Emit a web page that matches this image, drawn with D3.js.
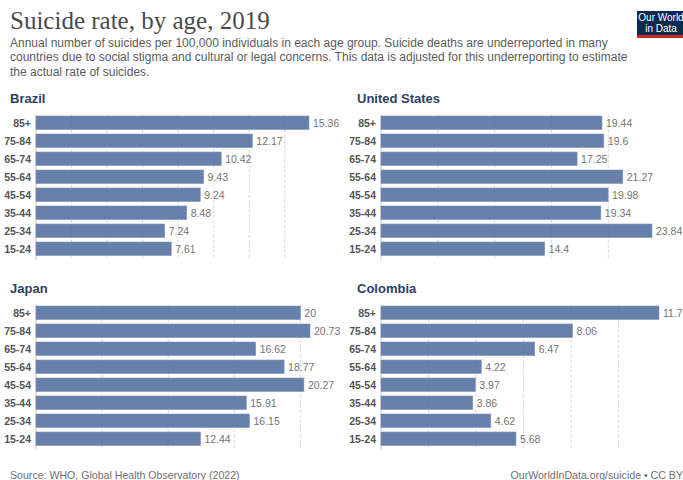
<!DOCTYPE html>
<html>
<head>
<meta charset="utf-8">
<script src="https://cdn.jsdelivr.net/npm/d3@7"></script>
<style>
  html, body { margin: 0; padding: 0; background: #fff; }
  svg { display: block; }
</style>
</head>
<body>
<svg id="chart" width="683" height="480"></svg>
<script>
// ---- data ----
const ageGroups = ["85+", "75-84", "65-74", "55-64", "45-54", "35-44", "25-34", "15-24"];
const countries = ["Brazil", "United States", "Japan", "Colombia"];
const brazilValues   = [15.36, 12.17, 10.42, 9.43, 9.24, 8.48, 7.24, 7.61];
const usValues       = [19.44, 19.6, 17.25, 21.27, 19.98, 19.34, 23.84, 14.4];
const japanValues    = [20, 20.73, 16.62, 18.77, 20.27, 15.91, 16.15, 12.44];
const colombiaValues = [11.7, 8.06, 6.47, 4.22, 3.97, 3.86, 4.62, 5.68];
const gridSteps = [2, 5, 5, 2];

const title = "Suicide rate, by age, 2019";
const subtitleLines = [
  "Annual number of suicides per 100,000 individuals in each age group. Suicide deaths are underreported in many",
  "countries due to social stigma and cultural or legal concerns. This data is adjusted for this underreporting to estimate",
  "the actual rate of suicides."
];
const sourceText = "Source: WHO, Global Health Observatory (2022)";
const urlText = "OurWorldInData.org/suicide • CC BY";

// ---- drawing ----
const svg = d3.select("#chart");
const sans = "'Liberation Sans', Arial, sans-serif";

svg.append("text").attr("x", 10).attr("y", 29)
  .attr("font-family", "'Liberation Serif', 'Times New Roman', serif")
  .attr("font-size", 25).attr("fill", "#4a4a4a").text(title);

svg.selectAll("text.sub").data(subtitleLines).enter().append("text")
  .attr("class", "sub").attr("x", 10).attr("y", (d, i) => 46.5 + i * 14.5)
  .attr("font-family", sans).attr("font-size", 12).attr("fill", "#5b5b5b")
  .text(d => d);

// logo
const logo = svg.append("g");
logo.append("rect").attr("x", 637).attr("y", 11).attr("width", 52).attr("height", 27).attr("fill", "#0d2a52");
logo.append("rect").attr("x", 637).attr("y", 35).attr("width", 52).attr("height", 3).attr("fill", "#ce261e");
logo.append("text").attr("x", 661).attr("y", 21).attr("text-anchor", "middle")
  .attr("font-family", sans).attr("font-size", 10).attr("fill", "#fff").text("Our World");
logo.append("text").attr("x", 661).attr("y", 32).attr("text-anchor", "middle")
  .attr("font-family", sans).attr("font-size", 10).attr("fill", "#fff").text("in Data");

const seriesValues = [brazilValues, usValues, japanValues, colombiaValues];
const panels = [
  { x0: 36,  x1: 309, titleX: 10,  titleY: 103, y0: 113.75 },
  { x0: 381, x1: 652, titleX: 357, titleY: 103, y0: 113.75 },
  { x0: 36,  x1: 310, titleX: 10,  titleY: 293, y0: 303.75 },
  { x0: 381, x1: 659, titleX: 357, titleY: 293, y0: 303.75 }
];

countries.forEach((name, ci) => {
  const p = panels[ci];
  const vals = seriesValues[ci];
  const data = ageGroups.map((a, i) => ({ age: a, value: vals[i] }));
  const x = d3.scaleLinear().domain([0, d3.max(vals)]).range([p.x0, p.x1]);
  const y = d3.scaleBand().domain(ageGroups).range([p.y0, p.y0 + 144])
    .paddingInner(0.25).paddingOuter(0.125);
  const g = svg.append("g");

  g.append("text").attr("x", p.titleX).attr("y", p.titleY)
    .attr("font-family", sans).attr("font-weight", "bold").attr("font-size", 13)
    .attr("fill", "#2d3f63").text(name);

  // grid
  const step = gridSteps[ci];
  const ticks = d3.range(step, d3.max(vals), step);
  g.selectAll("line.grid").data(ticks).enter().append("line")
    .attr("x1", d => x(d)).attr("x2", d => x(d))
    .attr("y1", p.y0 + 1).attr("y2", p.y0 + 146)
    .attr("stroke", "#d9d9d9").attr("stroke-dasharray", "3,2").attr("stroke-width", 1);

  // axis line
  g.append("line").attr("x1", p.x0).attr("x2", p.x0)
    .attr("y1", p.y0 + 1).attr("y2", p.y0 + 146)
    .attr("stroke", "#c8c8c8").attr("stroke-width", 1);

  g.selectAll("rect.bar").data(data).enter().append("rect")
    .attr("x", p.x0).attr("y", d => y(d.age))
    .attr("width", d => x(d.value) - p.x0).attr("height", y.bandwidth())
    .attr("fill", "#4c6a9c").attr("fill-opacity", 0.85)
    .attr("stroke", "#7d92ba").attr("stroke-width", 0.6);

  g.selectAll("text.age").data(data).enter().append("text")
    .attr("x", p.x0 - 5).attr("y", d => y(d.age) + y.bandwidth() / 2)
    .attr("dy", "0.36em").attr("text-anchor", "end")
    .attr("font-family", sans).attr("font-weight", "bold").attr("font-size", 10.5)
    .attr("fill", "#555").text(d => d.age);

  g.selectAll("text.val").data(data).enter().append("text")
    .attr("x", d => x(d.value) + 4).attr("y", d => y(d.age) + y.bandwidth() / 2)
    .attr("dy", "0.36em")
    .attr("font-family", sans).attr("font-size", 10.5)
    .attr("fill", "#747474").text(d => d.value);
});

svg.append("text").attr("x", 10).attr("y", 479)
  .attr("font-family", sans).attr("font-size", 10.6).attr("fill", "#6e6e6e").text(sourceText);
svg.append("text").attr("x", 683).attr("y", 479).attr("text-anchor", "end")
  .attr("font-family", sans).attr("font-size", 10.6).attr("fill", "#6e6e6e").text(urlText);
</script>
</body>
</html>
